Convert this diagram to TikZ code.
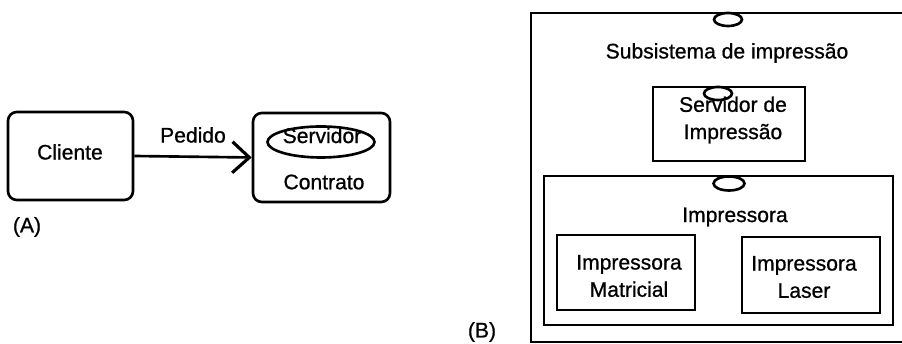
\documentclass[tikz,border=0pt]{standalone}
\usepackage{fontspec}
\setmainfont{Liberation Sans}[FakeBold=0.8]
\usetikzlibrary{shapes.geometric,arrows.meta}

\begin{document}
\begin{tikzpicture}[
  every node/.style={font=\fontsize{12}{15.5}\selectfont, align=center, inner sep=1pt},
  caixa/.style={rectangle, draw=black, line width=1.5pt},
  rcaixa/.style={caixa, rounded corners=5pt},
  porta/.style={ellipse, draw=black, line width=1.5pt, inner sep=0pt}
]
\useasboundingbox (0, 0) rectangle (18.04, 6.88);

% (A) cliente / servidor
\node[rcaixa, minimum width=2.5cm, minimum height=1.76cm] (cliente) at (1.41, 3.76) {};
\node (clienteTxt) at (1.40, 3.84) {Cliente};
\node[rcaixa, minimum width=2.74cm, minimum height=1.78cm] (servidor) at (6.43, 3.73) {};
\node[porta, minimum width=2.14cm, minimum height=0.62cm] (servPorta) at (6.42, 4.04) {};
\node (servTxt) at (6.44, 4.17) {Servidor};
\node (contrato) at (6.48, 3.24) {Contrato};
\draw[line width=1.5pt, -{Straight Barb[length=0.34cm, width=0.62cm, line width=1.8pt]}] (cliente.east) -- (servidor.west);
\node (pedido) at (3.86, 4.18) {Pedido};
\node (rotA) at (0.54, 2.34) {(A)};

% (B) subsistema de impressao
\node[caixa, minimum width=7.7cm, minimum height=6.58cm] (subsis) at (14.47, 3.33) {};
\node[porta, minimum width=0.56cm, minimum height=0.26cm] (subPorta) at (14.56, 6.49) {};
\node (subTxt) at (14.54, 5.82) {Subsistema de impressão};
\node[caixa, minimum width=3.04cm, minimum height=1.48cm] (servImp) at (14.58, 4.40) {};
\node[porta, minimum width=0.56cm, minimum height=0.26cm] (servImpPorta) at (14.36, 5.01) {};
\node (servImpTxt) at (14.66, 4.48) {Servidor de\\Impressão};
\node[caixa, minimum width=6.98cm, minimum height=2.98cm] (impr) at (14.37, 1.87) {};
\node[porta, minimum width=0.62cm, minimum height=0.28cm] (imprPorta) at (14.58, 3.21) {};
\node (imprTxt) at (14.70, 2.54) {Impressora};
\node[caixa, minimum width=2.76cm, minimum height=1.5cm] (matricial) at (12.52, 1.43) {};
\node (matricialTxt) at (12.58, 1.36) {Impressora\\Matricial};
\node[caixa, minimum width=2.76cm, minimum height=1.52cm] (laser) at (16.22, 1.38) {};
\node (laserTxt) at (16.08, 1.34) {Impressora\\Laser};
\node (rotB) at (9.64, 0.24) {(B)};
\end{tikzpicture}
\end{document}
